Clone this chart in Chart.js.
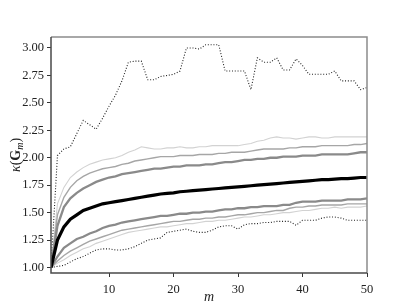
<!DOCTYPE html>
<html>
<head>
<meta charset="utf-8">
<script src="https://cdn.jsdelivr.net/npm/chart.js@4.4.1/dist/chart.umd.min.js"></script>
<style>
  html, body { margin: 0; padding: 0; background: #fff; }
  #wrap { width: 409px; height: 307px; }
</style>
</head>
<body>
<div id="wrap"><canvas id="chart-area"></canvas></div>
<script>
// m = number of samples
var mValues = [1,2,3,4,5,6,7,8,9,10,11,12,13,14,15,16,17,18,19,20,21,22,23,24,25,
               26,27,28,29,30,31,32,33,34,35,36,37,38,39,40,41,42,43,44,45,46,47,48,49,50];

var maxK = [1.00,2.02,2.08,2.10,2.22,2.34,2.30,2.26,2.36,2.47,2.57,2.70,2.87,2.88,2.88,2.71,2.71,2.74,2.75,2.76,
            2.79,3.00,3.00,2.99,3.03,3.03,3.03,2.79,2.79,2.79,2.79,2.62,2.91,2.87,2.87,2.91,2.80,2.80,2.90,2.84,
            2.76,2.76,2.76,2.76,2.79,2.70,2.70,2.70,2.62,2.64];
var p95 = [1.00,1.58,1.73,1.82,1.87,1.91,1.94,1.96,1.98,1.99,2.00,2.02,2.05,2.07,2.10,2.09,2.08,2.08,2.09,2.09,
           2.10,2.09,2.09,2.10,2.10,2.11,2.11,2.11,2.11,2.11,2.12,2.13,2.15,2.16,2.18,2.19,2.18,2.18,2.17,2.18,
           2.19,2.19,2.18,2.18,2.19,2.19,2.19,2.19,2.19,2.19];
var p90 = [1.00,1.48,1.64,1.73,1.79,1.83,1.86,1.88,1.90,1.91,1.92,1.94,1.95,1.97,1.98,1.99,2.00,2.01,2.01,2.01,
           2.02,2.02,2.02,2.03,2.03,2.03,2.04,2.04,2.05,2.05,2.05,2.06,2.07,2.08,2.08,2.08,2.08,2.09,2.09,2.10,
           2.10,2.10,2.11,2.11,2.11,2.11,2.11,2.12,2.12,2.13];
var p75 = [1.00,1.38,1.55,1.63,1.68,1.72,1.75,1.78,1.80,1.82,1.83,1.85,1.86,1.87,1.88,1.89,1.90,1.90,1.91,1.92,
           1.92,1.93,1.93,1.93,1.94,1.94,1.95,1.96,1.96,1.97,1.98,1.98,1.99,1.99,2.00,2.00,2.01,2.01,2.01,2.02,
           2.02,2.02,2.03,2.03,2.03,2.03,2.03,2.04,2.05,2.05];
var meanK = [1.00,1.25,1.37,1.44,1.48,1.52,1.54,1.56,1.58,1.59,1.60,1.61,1.62,1.63,1.64,1.65,1.66,1.67,1.675,1.68,
             1.69,1.695,1.70,1.705,1.71,1.715,1.72,1.725,1.73,1.735,1.74,1.745,1.75,1.755,1.76,1.765,1.77,1.775,1.78,1.785,
             1.79,1.795,1.80,1.80,1.805,1.81,1.81,1.815,1.82,1.82];
var p25 = [1.00,1.10,1.18,1.22,1.26,1.28,1.31,1.33,1.36,1.38,1.39,1.41,1.42,1.43,1.44,1.45,1.46,1.47,1.47,1.48,
           1.49,1.49,1.50,1.50,1.51,1.51,1.52,1.53,1.53,1.54,1.54,1.55,1.55,1.56,1.56,1.56,1.57,1.57,1.59,1.60,
           1.60,1.60,1.61,1.61,1.61,1.61,1.62,1.62,1.62,1.63];
var p10 = [1.00,1.06,1.11,1.15,1.18,1.21,1.24,1.26,1.28,1.30,1.32,1.34,1.35,1.36,1.37,1.38,1.39,1.40,1.41,1.42,
           1.42,1.43,1.44,1.44,1.45,1.45,1.46,1.46,1.47,1.48,1.48,1.49,1.50,1.50,1.51,1.52,1.52,1.54,1.55,1.55,
           1.56,1.56,1.57,1.57,1.57,1.57,1.58,1.58,1.58,1.58];
var p5 = [1.00,1.04,1.07,1.11,1.14,1.17,1.19,1.22,1.24,1.26,1.28,1.30,1.32,1.33,1.34,1.35,1.36,1.37,1.37,1.38,
          1.39,1.40,1.40,1.41,1.42,1.42,1.43,1.43,1.44,1.45,1.46,1.46,1.47,1.48,1.48,1.49,1.50,1.50,1.51,1.52,
          1.52,1.53,1.54,1.54,1.55,1.54,1.55,1.55,1.55,1.56];
var minK = [1.00,1.01,1.02,1.05,1.08,1.10,1.13,1.16,1.17,1.17,1.16,1.16,1.17,1.19,1.22,1.25,1.26,1.27,1.32,1.33,
            1.34,1.35,1.33,1.32,1.32,1.34,1.37,1.38,1.38,1.35,1.39,1.40,1.40,1.41,1.41,1.42,1.42,1.42,1.385,1.43,
            1.43,1.43,1.45,1.46,1.46,1.45,1.43,1.43,1.43,1.43];

var xTicks = [10, 20, 30, 40, 50];
var yTicks = [1.00, 1.25, 1.50, 1.75, 2.00, 2.25, 2.50, 2.75, 3.00];

function pts(arr) {
  var out = [];
  for (var i = 0; i < mValues.length; i++) out.push({x: mValues[i], y: arr[i]});
  return out;
}

function line(arr, color, width, dash) {
  return {
    data: pts(arr),
    borderColor: color,
    borderWidth: width,
    borderDash: dash || [],
    pointRadius: 0,
    tension: 0,
    fill: false
  };
}

// first dataset is drawn on top
var datasets = [
  line(meanK, '#000000', 3.2),
  line(p75, '#8a8a8a', 2.3),
  line(p25, '#8a8a8a', 2.3),
  line(p90, '#a6a6a6', 1.4),
  line(p10, '#a6a6a6', 1.4),
  line(p95, '#d2d2d2', 1.1),
  line(p5, '#d2d2d2', 1.1),
  line(maxK, '#222222', 1.1, [1, 1.8]),
  line(minK, '#222222', 1.1, [1, 1.8])
];

var serif = '"Liberation Serif", "DejaVu Serif", serif';

var frameAndLabels = {
  id: 'frameAndLabels',
  afterDraw: function(chart) {
    var ctx = chart.ctx, a = chart.chartArea;
    ctx.save();
    ctx.lineWidth = 1.5;
    ctx.strokeStyle = '#8c8c8c';
    ctx.beginPath();
    ctx.moveTo(a.left, a.top); ctx.lineTo(a.right, a.top); ctx.lineTo(a.right, a.bottom);
    ctx.stroke();
    ctx.strokeStyle = '#4a4a4a';
    ctx.beginPath();
    ctx.moveTo(a.left, a.top); ctx.lineTo(a.left, a.bottom); ctx.lineTo(a.right, a.bottom);
    ctx.stroke();

    // x label
    ctx.fillStyle = '#222';
    ctx.textAlign = 'center';
    ctx.textBaseline = 'alphabetic';
    ctx.font = 'italic 14px ' + serif;
    ctx.fillText('m', (a.left + a.right) / 2, 301);

    // y label: kappa(G_m)
    ctx.translate(16, (a.top + a.bottom) / 2);
    ctx.rotate(-Math.PI / 2);
    var parts = [
      {t: '\u03BA', f: 'italic 14px ' + serif, dy: 0},
      {t: '(', f: '14px ' + serif, dy: 0},
      {t: 'G', f: 'bold 14px ' + serif, dy: 0},
      {t: 'm', f: 'italic 10px ' + serif, dy: 3},
      {t: ')', f: '14px ' + serif, dy: 0}
    ];
    var total = 0;
    parts.forEach(function(p) { ctx.font = p.f; p.w = ctx.measureText(p.t).width; total += p.w; });
    var x = -total / 2;
    ctx.textAlign = 'left';
    parts.forEach(function(p) {
      ctx.font = p.f;
      ctx.fillText(p.t, x, 4 + p.dy);
      x += p.w;
    });
    ctx.restore();
  }
};

var config = {
  type: 'line',
  data: { datasets: datasets },
  options: {
    responsive: true,
    maintainAspectRatio: false,
    animation: false,
    layout: { padding: { left: 0, top: 37, right: 42, bottom: 0 } },
    plugins: { legend: { display: false }, tooltip: { enabled: false } },
    scales: {
      x: {
        type: 'linear',
        min: 1,
        max: 50,
        afterBuildTicks: function(axis) { axis.ticks = xTicks.map(function(v) { return {value: v}; }); },
        afterFit: function(axis) { axis.height = 34; },
        grid: { drawOnChartArea: false, drawTicks: true, tickLength: 4, color: '#333', tickWidth: 1 },
        border: { display: false },
        ticks: { color: '#222', font: { family: serif, size: 12.5 }, padding: 5, maxRotation: 0 }
      },
      y: {
        type: 'linear',
        min: 0.95,
        max: 3.10,
        afterBuildTicks: function(axis) { axis.ticks = yTicks.map(function(v) { return {value: v}; }); },
        afterFit: function(axis) { axis.width = 51; },
        grid: { drawOnChartArea: false, drawTicks: true, tickLength: 4, color: '#333', tickWidth: 1 },
        border: { display: false },
        ticks: {
          color: '#222',
          font: { family: serif, size: 12.5 },
          padding: 3,
          callback: function(v) { return Number(v).toFixed(2); }
        }
      }
    }
  },
  plugins: [frameAndLabels]
};

var ctx = document.getElementById('chart-area').getContext('2d');
window.myLine = new Chart(ctx, config);
</script>
</body>
</html>
